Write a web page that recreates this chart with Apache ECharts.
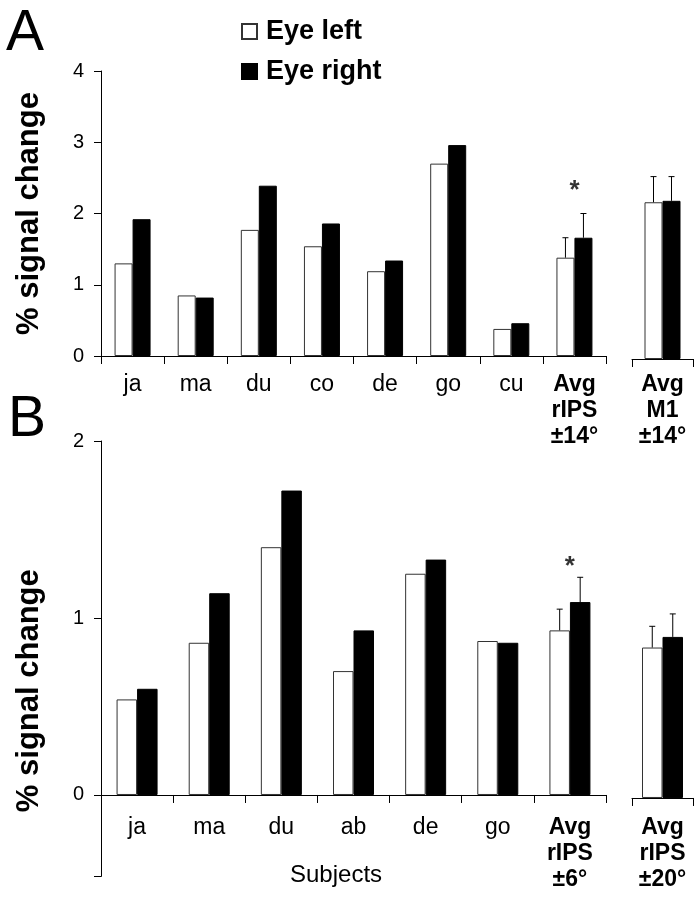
<!DOCTYPE html>
<html>
<head>
<meta charset="utf-8">
<script src="https://cdn.jsdelivr.net/npm/echarts@6/dist/echarts.min.js"></script>
<style>html,body{margin:0;padding:0;background:#fff}#c{width:700px;height:900px}</style>
</head>
<body>
<div id="c"></div>
<script>
// ---- data ----
const seriesNames = ['Eye left', 'Eye right'];
const catA = ['ja', 'ma', 'du', 'co', 'de', 'go', 'cu', 'Avg\nrIPS\n±14°'];
const leftA = [1.30, 0.85, 1.77, 1.54, 1.19, 2.70, 0.38, 1.38];
const rightA = [1.92, 0.82, 2.39, 1.86, 1.34, 2.96, 0.46, 1.66];
const errLeftA = [null, null, null, null, null, null, null, 0.28];
const errRightA = [null, null, null, null, null, null, null, 0.34];
const starA = [[7, 2.32]];

const catA2 = ['Avg\nM1\n±14°'];
const leftA2 = [2.20];
const rightA2 = [2.22];
const errLeftA2 = [0.36];
const errRightA2 = [0.34];

const catB = ['ja', 'ma', 'du', 'ab', 'de', 'go', 'Avg\nrIPS\n±6°'];
const leftB = [0.54, 0.86, 1.40, 0.70, 1.25, 0.87, 0.93];
const rightB = [0.60, 1.14, 1.72, 0.93, 1.33, 0.86, 1.09];
const errLeftB = [null, null, null, null, null, null, 0.12];
const errRightB = [null, null, null, null, null, null, 0.14];
const starB = [[6, 1.29]];

const catB2 = ['Avg\nrIPS\n±20°'];
const leftB2 = [0.85];
const rightB2 = [0.91];
const errLeftB2 = [0.12];
const errRightB2 = [0.13];

const yTicksA = [0, 1, 2, 3, 4];
const yTicksB = [0, 1, 2];
const yMinB = -0.46;
const yMaxB = 2;

// ---- chart ----
const FONT = "'Liberation Sans', Arial, sans-serif";
const chart = echarts.init(document.getElementById('c'), null, {renderer: 'canvas'});

const hB = 435.4; // plot height of panel B grids
const zeroOffsetB = -hB * (0 - yMinB) / (yMaxB - yMinB); // lift x axis from grid bottom to value 0

function catLabel(v) {
  if (v.indexOf('Avg') === 0) return v.split('\n').map(s => '{b|' + s + '}').join('\n');
  return '{n|' + v + '}';
}
function xAxis(gridIndex, data, offset, margin) {
  return {
    type: 'category', gridIndex, data, boundaryGap: true, offset: offset || 0,
    axisLine: {show: true, onZero: false, lineStyle: {color: '#000', width: 1}},
    axisTick: {show: true, inside: false, length: 8, interval: 0, lineStyle: {color: '#000'}},
    axisLabel: {
      interval: 0, margin: margin, color: '#000', formatter: catLabel, hideOverlap: false,
      rich: {
        n: {fontSize: 23, lineHeight: 26, fontFamily: FONT, color: '#000'},
        b: {fontSize: 23, lineHeight: 26, fontWeight: 'bold', fontFamily: FONT, color: '#000'}
      }
    },
    splitLine: {show: false}
  };
}
function errData(vals, errs) {
  const out = [];
  vals.forEach((v, i) => { if (errs[i] != null) out.push([i, v, errs[i]]); });
  return out;
}
function errSeries(xi, yi, vals, errs, side, barW) {
  return {
    type: 'custom', xAxisIndex: xi, yAxisIndex: yi, silent: true, z: 5,
    data: errData(vals, errs),
    renderItem: function (params, api) {
      const idx = api.value(0), v = api.value(1), e = api.value(2);
      const p0 = api.coord([idx, v]);
      const p1 = api.coord([idx, v + e]);
      const x = p0[0] + side * barW / 2;
      return {
        type: 'group', children: [
          {type: 'line', shape: {x1: x, y1: p0[1], x2: x, y2: p1[1]}, style: {stroke: '#000', lineWidth: 1}},
          {type: 'line', shape: {x1: x - 3, y1: p1[1], x2: x + 3, y2: p1[1]}, style: {stroke: '#000', lineWidth: 1}}
        ]
      };
    }
  };
}
function barPair(xi, yi, left, right, barW) {
  return [
    {name: seriesNames[0], type: 'bar', xAxisIndex: xi, yAxisIndex: yi, data: left, barWidth: barW, barGap: '0%',
      itemStyle: {color: '#fff', borderColor: '#333', borderWidth: 1}},
    {name: seriesNames[1], type: 'bar', xAxisIndex: xi, yAxisIndex: yi, data: right, barWidth: barW, barGap: '0%',
      itemStyle: {color: '#000', borderColor: '#000', borderWidth: 1}}
  ];
}
function starSeries(xi, yi, data) {
  return {
    type: 'scatter', xAxisIndex: xi, yAxisIndex: yi, data, symbolSize: 1, silent: true,
    itemStyle: {color: 'rgba(0,0,0,0)'},
    label: {show: true, position: 'inside', formatter: '*', fontSize: 26, fontWeight: 'bold', color: '#000', fontFamily: FONT}
  };
}

function yName(pad) {
  return {
    name: '% signal change', nameLocation: 'middle', nameRotate: 90, nameGap: 56,
    nameTextStyle: {fontSize: 31, fontWeight: 'bold', color: '#000', fontFamily: FONT, padding: pad}
  };
}
const gridBase = {outerBoundsMode: 'none'};

const option = {
  animation: false,
  backgroundColor: '#fff',
  textStyle: {fontFamily: FONT},
  legend: {
    data: seriesNames, orient: 'vertical', left: 236, top: 13, itemGap: 13,
    itemWidth: 15, itemHeight: 15, icon: 'rect', selectedMode: false,
    textStyle: {fontSize: 27, lineHeight: 27, fontWeight: 'bold', color: '#000', fontFamily: FONT, padding: [0, 0, 0, 4]}
  },
  graphic: [
    {type: 'text', left: 6, top: 6, style: {text: 'A', fontSize: 57, fontFamily: FONT, fill: '#000'}},
    {type: 'text', left: 8, top: 392, style: {text: 'B', fontSize: 57, fontFamily: FONT, fill: '#000'}},
    {type: 'text', left: 290, top: 863, style: {text: 'Subjects', fontSize: 24, fontFamily: FONT, fill: '#000'}}
  ],
  grid: [
    Object.assign({left: 101, top: 71, width: 505, height: 285}, gridBase),
    Object.assign({left: 632, top: 74, width: 61, height: 285}, gridBase),
    Object.assign({left: 101, top: 441, width: 505, height: hB}, gridBase),
    Object.assign({left: 632, top: 444, width: 61, height: hB}, gridBase)
  ],
  xAxis: [
    xAxis(0, catA, 0, 16), xAxis(1, catA2, 0, 13),
    xAxis(2, catB, zeroOffsetB, 20), xAxis(3, catB2, zeroOffsetB, 17)
  ],
  yAxis: [
    Object.assign({
      type: 'value', gridIndex: 0, min: 0, max: 4, interval: 1,
      axisLine: {show: true, lineStyle: {color: '#000'}},
      axisTick: {show: true, length: 7, lineStyle: {color: '#000'}},
      axisLabel: {fontSize: 20, color: '#000', margin: 17, customValues: yTicksA},
      splitLine: {show: false}
    }, yName([0, 0, 0, 0])),
    {type: 'value', gridIndex: 1, min: 0, max: 4, show: false, splitLine: {show: false}},
    Object.assign({
      type: 'value', gridIndex: 2, min: yMinB, max: yMaxB,
      axisLine: {show: true, lineStyle: {color: '#000'}},
      axisTick: {show: true, length: 7, lineStyle: {color: '#000'}, customValues: [yMinB].concat(yTicksB)},
      axisLabel: {fontSize: 20, color: '#000', margin: 17, customValues: yTicksB},
      splitLine: {show: false}
    }, yName([0, 64, 0, 0])),
    {type: 'value', gridIndex: 3, min: yMinB, max: yMaxB, show: false, splitLine: {show: false}}
  ],
  series: [
    ...barPair(0, 0, leftA, rightA, 18),
    errSeries(0, 0, leftA, errLeftA, -1, 18),
    errSeries(0, 0, rightA, errRightA, 1, 18),
    starSeries(0, 0, starA),
    ...barPair(1, 1, leftA2, rightA2, 18),
    errSeries(1, 1, leftA2, errLeftA2, -1, 18),
    errSeries(1, 1, rightA2, errRightA2, 1, 18),
    ...barPair(2, 2, leftB, rightB, 20.5),
    errSeries(2, 2, leftB, errLeftB, -1, 20.5),
    errSeries(2, 2, rightB, errRightB, 1, 20.5),
    starSeries(2, 2, starB),
    ...barPair(3, 3, leftB2, rightB2, 20.5),
    errSeries(3, 3, leftB2, errLeftB2, -1, 20.5),
    errSeries(3, 3, rightB2, errRightB2, 1, 20.5)
  ]
};
chart.setOption(option);
</script>
</body>
</html>
